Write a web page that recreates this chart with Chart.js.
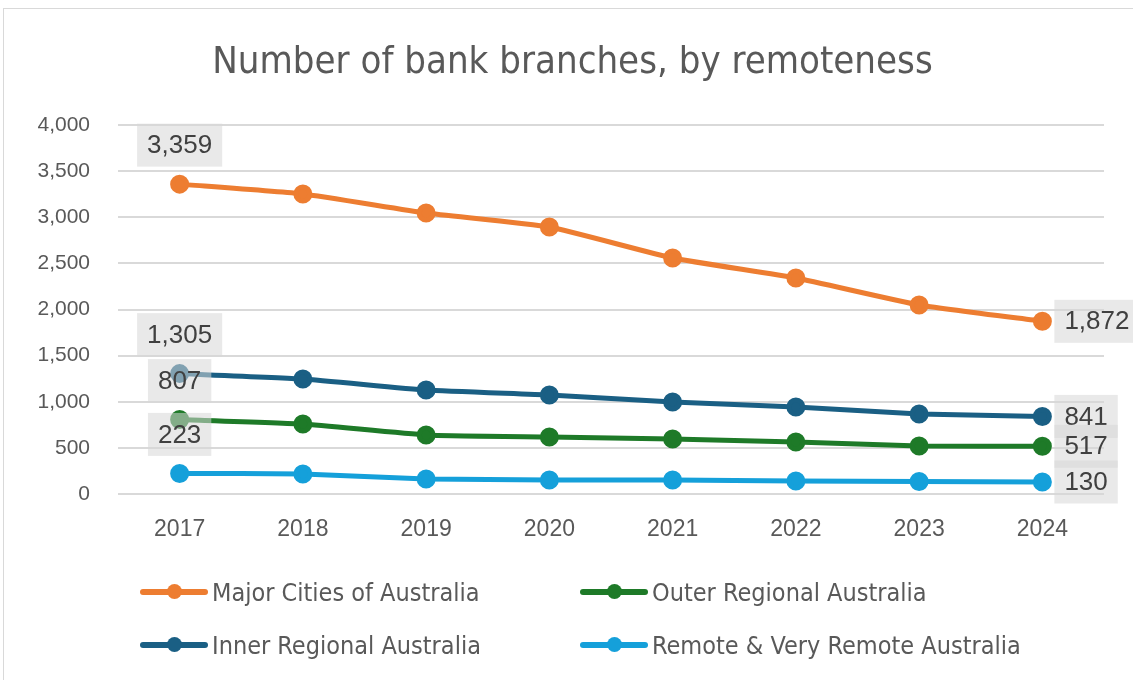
<!DOCTYPE html>
<html>
<head>
<meta charset="utf-8">
<script src="https://cdn.jsdelivr.net/npm/chart.js@4"></script>
<style>
  body { margin: 0; background: #fff; }
  #wrap { position: relative; width: 1133px; height: 680px; overflow: hidden; }
  #frame { position: absolute; left: 3px; top: 8px; width: 1140px; height: 690px; border: 1px solid #d9d9d9; box-sizing: border-box; }
  #title { position: absolute; left: 0; width: 1145px; top: 38px; text-align: center; font-family: "Liberation Sans Narrow", "DejaVu Sans Condensed", sans-serif; font-size: 38px; line-height: 44px; color: #595959; }
  #legend { position: absolute; left: 0; top: 0; font-family: "Liberation Sans Narrow", "DejaVu Sans Condensed", sans-serif; font-size: 25px; color: #595959; }
  .item { position: absolute; display: flex; align-items: center; white-space: nowrap; }
  .mark { position: relative; width: 68px; height: 16px; margin-right: 4px; }
  .mark .ln { position: absolute; left: 0; right: 0; top: 5px; height: 6px; border-radius: 3px; }
  .mark .dot { position: absolute; left: 27px; top: 0; width: 15px; height: 15px; border-radius: 50%; }
</style>
</head>
<body>
<div id="wrap">
  <div id="frame"></div>
  <canvas id="branchChart" width="1133" height="680"></canvas>
  <div id="title">Number of bank branches, by remoteness</div>
  <div id="legend"></div>
</div>
<script>
// years and branch counts
const years = ['2017', '2018', '2019', '2020', '2021', '2022', '2023', '2024'];
const majorCities = [3359, 3252, 3046, 2894, 2558, 2341, 2049, 1872];
const innerRegional = [1305, 1247, 1127, 1073, 997, 943, 867, 841];
const outerRegional = [807, 759, 640, 618, 596, 564, 520, 517];
const remote = [223, 217, 163, 152, 152, 141, 136, 130];

const seriesNames = ['Major Cities of Australia', 'Inner Regional Australia', 'Outer Regional Australia', 'Remote & Very Remote Australia'];
const seriesColors = ['#ED7D31', '#1A5F84', '#1E7A28', '#15A0DA'];
const seriesData = [majorCities, innerRegional, outerRegional, remote];

const textColor = '#595959';

// labels on first and last point, grey box like the Excel callouts
const endLabels = {
    id: 'endLabels',
    afterDatasetsDraw(chart) {
        const ctx = chart.ctx;
        ctx.save();
        ctx.font = '26px "Liberation Sans", Arial, sans-serif';
        ctx.textBaseline = 'middle';
        chart.data.datasets.forEach((ds, di) => {
            const meta = chart.getDatasetMeta(di);
            const last = ds.data.length - 1;
            [0, last].forEach(i => {
                const pt = meta.data[i];
                const txt = ds.data[i].toLocaleString('en-US');
                const w = ctx.measureText(txt).width;
                let bx, by, bw = w + 20, bh = 43;
                if (i === 0) {
                    bx = pt.x - bw / 2;
                    by = pt.y - 39 - bh / 2;
                } else {
                    bx = pt.x + 12;
                    by = pt.y - bh / 2;
                }
                ctx.fillStyle = 'rgba(215,215,215,0.55)';
                ctx.fillRect(bx, by, bw, bh);
                ctx.fillStyle = '#404040';
                ctx.textAlign = 'left';
                ctx.fillText(txt, bx + 10, by + bh / 2 + 1);
            });
        });
        ctx.restore();
    }
};

const ctx = document.getElementById('branchChart').getContext('2d');
const branchChart = new Chart(ctx, {
    type: 'line',
    data: {
        labels: years,
        datasets: seriesNames.map((name, k) => ({
            label: name,
            data: seriesData[k],
            borderColor: seriesColors[k],
            backgroundColor: seriesColors[k],
            borderWidth: 5,
            pointRadius: 7,
            pointHoverRadius: 7,
            tension: 0.15,
            fill: false
        }))
    },
    options: {
        responsive: false,
        animation: false,
        layout: { padding: { left: 8, right: 29, top: 125, bottom: 126 } },
        scales: {
            x: {
                offset: true,
                grid: { display: false, drawTicks: false },
                border: { display: false },
                ticks: { color: textColor, font: { size: 23, family: '"Liberation Sans", Arial, sans-serif' }, padding: 22 },
                afterFit: s => { s.height = 60; }
            },
            y: {
                min: 0,
                max: 4000,
                ticks: {
                    stepSize: 500,
                    color: textColor,
                    padding: 28,
                    font: { size: 21, family: '"Liberation Sans", Arial, sans-serif' },
                    callback: v => v.toLocaleString('en-US')
                },
                grid: { color: '#d9d9d9', lineWidth: 2, drawTicks: false },
                border: { display: false },
                afterFit: s => { s.width = 110; }
            }
        },
        plugins: {
            legend: { display: false },
            tooltip: { enabled: false },
            title: { display: false }
        }
    },
    plugins: [endLabels]
});

// legend in two columns, Excel order
const legendOrder = [0, 2, 1, 3];
const legendPos = [[140, 592], [580, 592], [140, 645], [580, 645]];
const legendEl = document.getElementById('legend');
legendOrder.forEach((k, j) => {
    const item = document.createElement('div');
    item.className = 'item';
    item.style.left = legendPos[j][0] + 'px';
    item.style.top = (legendPos[j][1] - 14) + 'px';
    item.style.height = '28px';
    item.innerHTML = '<div class="mark"><div class="ln" style="background:' + seriesColors[k] +
        '"></div><div class="dot" style="background:' + seriesColors[k] + '"></div></div><span>' + seriesNames[k] + '</span>';
    legendEl.appendChild(item);
});
</script>
</body>
</html>
